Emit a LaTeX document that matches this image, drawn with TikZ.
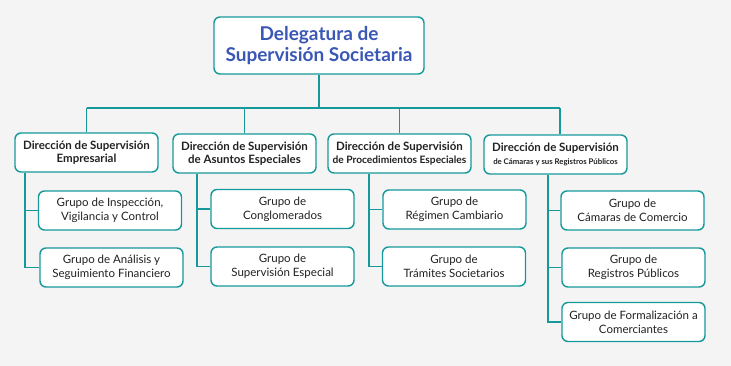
\documentclass[tikz,border=0pt]{standalone}
\usepackage{fontspec}
\setmainfont{Lato}
\definecolor{bg}{HTML}{F4F4F4}
\definecolor{teal}{HTML}{16999A}
\definecolor{titleblue}{HTML}{3A57B5}
\definecolor{txt}{HTML}{222222}
\tikzset{
  box/.style={draw=teal, line width=1.4pt, fill=white, rounded corners=6pt, align=center, inner sep=0pt},
  lvl/.style={box, minimum width=143pt, minimum height=39pt, font=\fontsize{11.5}{13.5}\selectfont\bfseries, text=txt},
  grp/.style={box, minimum width=143pt, minimum height=39pt, font=\fontsize{11.5}{14}\selectfont, text=txt},
  conn/.style={draw=teal, line width=1.8pt}
}
\begin{document}
\begin{tikzpicture}[x=1pt,y=-1pt]
\fill[bg] (0,0) rectangle (731,366);
\useasboundingbox (0,0) rectangle (731,366);
\node[box, minimum width=210pt, minimum height=57pt, font=\fontsize{19}{21}\selectfont\bfseries, text=titleblue] (top) at (319,45.5) {Delegatura de\\Supervisión Societaria};
\node[lvl] (d1) at (86.5,152.5) {Dirección de Supervisión\\Empresarial};
\node[lvl] (d2) at (244.5,153.5) {Dirección de Supervisión\\de Asuntos Especiales};
\node[lvl] (d3) at (399.5,153.5) {Dirección de Supervisión\\{\fontsize{10.2}{12}\selectfont de Procedimientos Especiales}};
\node[lvl] (d4) at (555.5,154.5) {Dirección de Supervisión\\{\fontsize{7.8}{11}\selectfont de Cámaras y sus Registros Públicos}};
\node[grp] (g1a) at (110,210.5) {Grupo de Inspección,\\Vigilancia y Control};
\node[grp] (g1b) at (111.5,267.5) {Grupo de Análisis y\\Seguimiento Financiero};
\node[grp] (g2a) at (282.5,209) {Grupo de\\Conglomerados};
\node[grp] (g2b) at (282.5,266.5) {Grupo de\\Supervisión Especial};
\node[grp] (g3a) at (454.5,209.5) {Grupo de\\Régimen Cambiario};
\node[grp] (g3b) at (454,266.5) {Grupo de\\Trámites Societarios};
\node[grp] (g4a) at (632.5,210.5) {Grupo de\\Cámaras de Comercio};
\node[grp] (g4b) at (633.5,267.5) {Grupo de\\Registros Públicos};
\node[grp] (g4c) at (633.5,322) {Grupo de Formalización a\\Comerciantes};
\coordinate (hy) at (0,108);
\coordinate (s4) at (560,0);
\draw[conn] (top.south) -- (top.south |- hy);
\draw[conn] (d1.north |- hy) -- (s4 |- hy);
\draw[conn] (d1.north |- hy) -- (d1.north);
\draw[conn] (d2.north |- hy) -- (d2.north);
\draw[conn] (d3.north |- hy) -- (d3.north);
\draw[conn] (s4 |- hy) -- (s4 |- d4.north);
\coordinate (x1) at (25,0);
\coordinate (x2) at (197,0);
\coordinate (x3) at (369,0);
\coordinate (x4) at (548,0);
\draw[conn] (x1 |- d1.south) |- (g1b.west);
\draw[conn] (x1 |- g1a.west) -- (g1a.west);
\draw[conn] (x2 |- d2.south) |- (g2b.west);
\draw[conn] (x2 |- g2a.west) -- (g2a.west);
\draw[conn] (x3 |- d3.south) |- (g3b.west);
\draw[conn] (x3 |- g3a.west) -- (g3a.west);
\draw[conn] (x4 |- d4.south) |- (g4c.west);
\draw[conn] (x4 |- g4a.west) -- (g4a.west);
\draw[conn] (x4 |- g4b.west) -- (g4b.west);
\end{tikzpicture}
\end{document}
